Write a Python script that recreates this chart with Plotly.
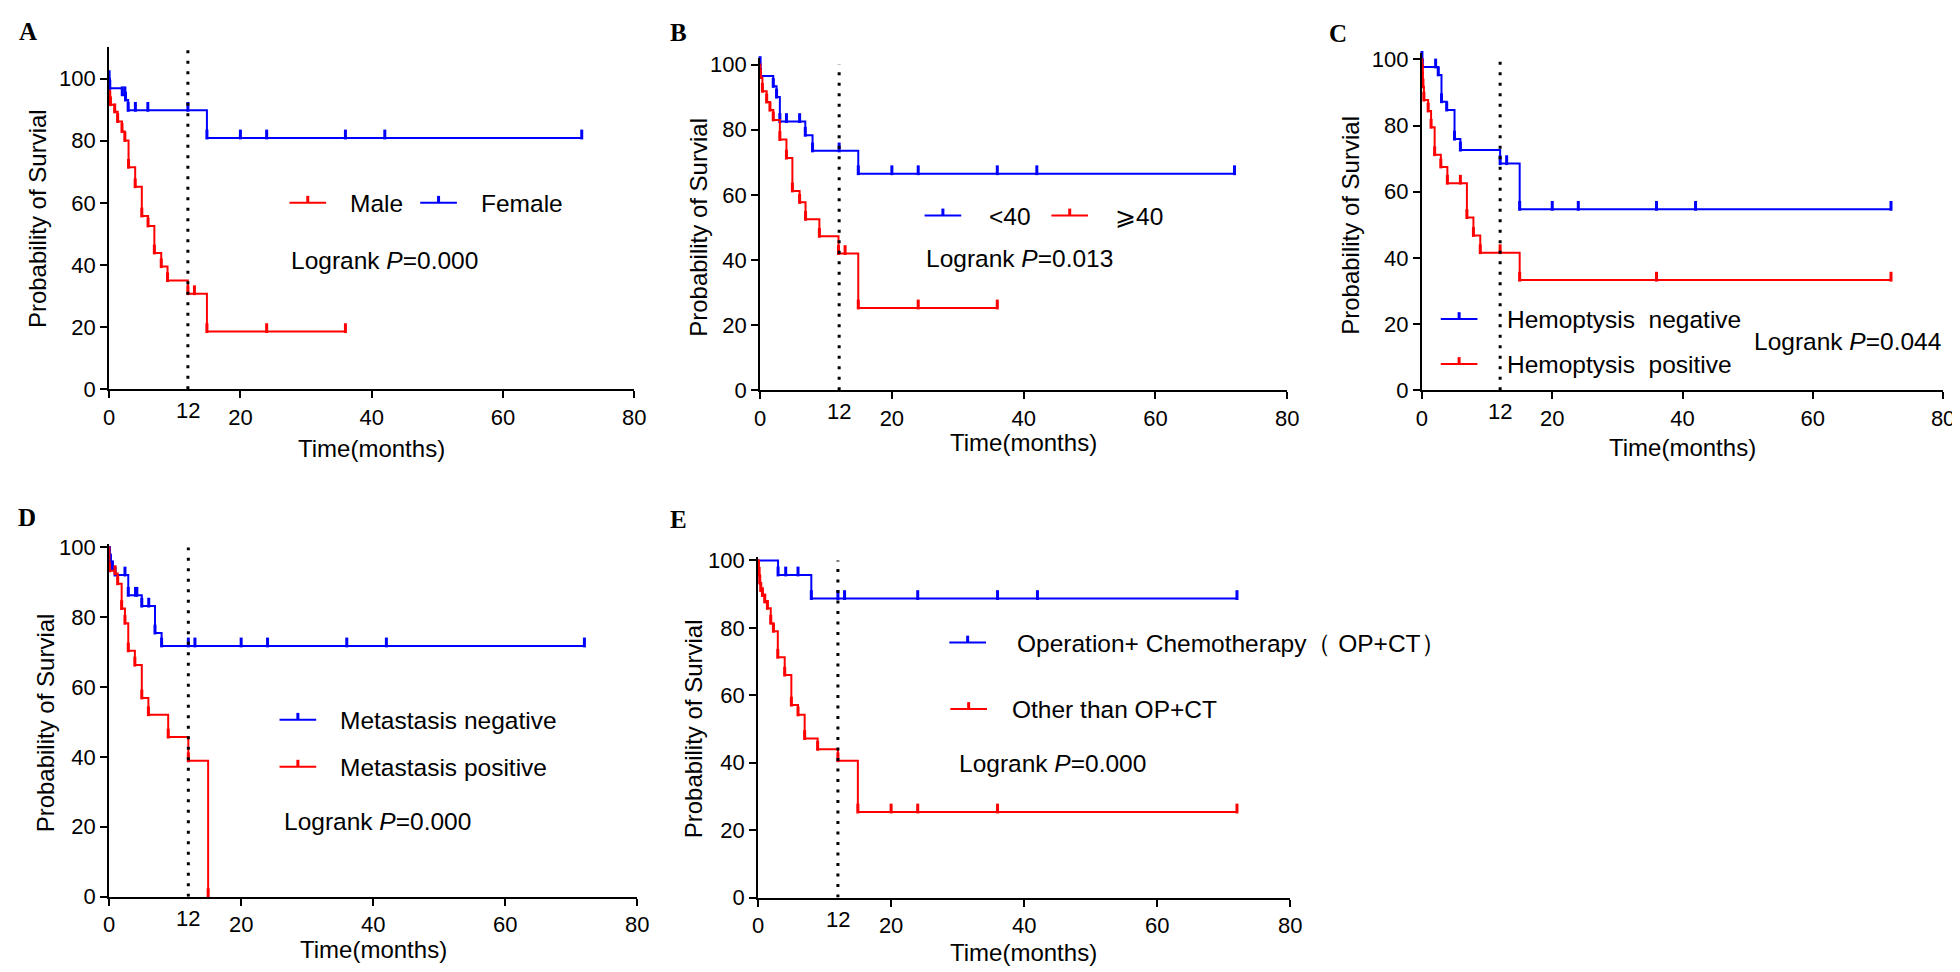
import plotly.graph_objects as go

W, H = 1960, 972
RED = "#FF0000"
BLUE = "#0000FF"
FONT = "Liberation Sans, Arial, sans-serif"

# ---------------- data ----------------
x_ticks = [0, 20, 40, 60, 80]
y_ticks = [0, 20, 40, 60, 80, 100]
landmark_month = 12

# Panel A
A_male_t = [0.02, 0.1, 0.2, 0.85, 1.3, 1.96, 2.4, 2.96, 3.97, 4.98, 5.93, 6.89, 7.94, 8.9, 12.0, 14.9]
A_male_s = [96.0, 93.5, 91.6, 89.3, 86.2, 83.0, 80.1, 71.5, 65.2, 55.8, 52.6, 43.9, 39.5, 35.0, 30.8, 18.6]
A_male_c = [13.0, 24.0, 36.0]
A_female_t = [0.1, 2.0, 2.5, 2.9, 14.9]
A_female_s = [96.9, 94.8, 93.1, 89.8, 80.9]
A_female_c = [0.0, 2.4, 4.0, 5.9, 12.0, 20.0, 24.0, 36.0, 42.0, 72.0]

# Panel B
B_lt40_t = [0.05, 2.0, 2.5, 3.0, 6.86, 7.96, 14.9]
B_lt40_s = [96.5, 93.3, 90.0, 82.5, 78.3, 73.5, 66.5]
B_lt40_c = [0.0, 4.0, 6.0, 12.0, 20.0, 24.0, 36.0, 42.0, 72.0]
B_ge40_t = [0.05, 0.35, 1.0, 1.5, 2.0, 3.0, 4.0, 4.9, 6.0, 6.9, 9.0, 11.9, 14.9]
B_ge40_s = [96.0, 91.8, 88.5, 86.0, 83.0, 77.0, 71.3, 61.2, 57.7, 52.5, 47.3, 42.0, 25.3]
B_ge40_c = [12.9, 24.0, 36.0]

# Panel C
C_neg_t = [0.05, 2.5, 3.0, 3.8, 5.0, 5.9, 12.0, 15.0]
C_neg_s = [97.7, 95.3, 87.2, 84.7, 75.9, 72.6, 68.5, 54.7]
C_neg_c = [0.0, 2.1, 13.0, 20.0, 24.0, 36.0, 42.0, 72.0]
C_pos_t = [0.05, 0.15, 0.3, 0.95, 1.4, 1.95, 2.9, 3.9, 6.9, 7.9, 8.95, 15.0]
C_pos_s = [96.0, 91.7, 87.7, 84.4, 79.5, 71.2, 67.5, 62.6, 52.2, 46.8, 41.6, 33.3]
C_pos_c = [5.9, 12.0, 36.0, 72.0]

# Panel D
D_neg_t = [0.05, 0.2, 0.5, 0.9, 2.9, 4.95, 6.95, 7.95]
D_neg_s = [98.0, 95.8, 93.9, 92.1, 86.3, 83.2, 75.5, 71.8]
D_neg_c = [2.4, 4.0, 4.2, 6.0, 12.0, 13.0, 20.0, 24.0, 36.0, 42.0, 72.0]
D_pos_t = [0.05, 0.9, 1.3, 1.9, 2.4, 2.9, 3.9, 4.95, 5.95, 8.95, 12.0, 15.0]
D_pos_s = [93.3, 92.5, 89.6, 82.5, 78.3, 70.4, 66.3, 56.9, 52.1, 45.7, 38.9, 0.0]
D_pos_c = []

# Panel E
E_op_t = [3.0, 8.0]
E_op_s = [95.7, 88.7]
E_op_c = [2.0, 4.15, 6.0, 12.0, 13.0, 24.0, 36.0, 42.0, 72.0]
E_other_t = [0.05, 0.15, 0.25, 0.4, 0.65, 1.0, 1.4, 1.9, 2.3, 2.96, 4.0, 5.0, 6.0, 7.0, 8.95, 12.0, 15.0]
E_other_s = [97.8, 95.6, 93.3, 91.1, 89.6, 87.7, 85.8, 81.4, 79.0, 71.3, 66.0, 57.1, 54.2, 47.2, 44.0, 40.6, 25.4]
E_other_c = [20.0, 24.0, 36.0, 72.0]

# ---------------- layout geometry (pixels) ----------------
panels = [
    dict(key="A", x0=96, x1=626, ybot=381, ymax=110, ppu=3.18, dot_top=110,
         series=[("Male", RED, A_male_t, A_male_s, A_male_c),
                 ("Female", BLUE, A_female_t, A_female_s, A_female_c)],
         letter=(3, 15), ytitle=(24, 206), xtitle=(361, 442),
         legend=[(278, 190, "Male", RED, 337), (410, 190, "Female", BLUE, 469)],
         logrank=(278, 249, "0.000")),
    dict(key="B", x0=753, x1=1285, ybot=382, ymax=102, ppu=3.334, dot_top=100,
         series=[("<40", BLUE, B_lt40_t, B_lt40_s, B_lt40_c),
                 ("⩾40", RED, B_ge40_t, B_ge40_s, B_ge40_c)],
         letter=(660, 16), ytitle=(690, 215), xtitle=(1019, 435),
         legend=[(919, 203, "<40", BLUE, 982), (1047, 203, "⩾40", RED, 1109)],
         logrank=(918, 247, "0.013")),
    dict(key="C", x0=1421, x1=1947, ybot=382, ymax=102, ppu=3.387, dot_top=100,
         series=[("Hemoptysis  negative", BLUE, C_neg_t, C_neg_s, C_neg_c),
                 ("Hemoptysis  positive", RED, C_pos_t, C_pos_s, C_pos_c)],
         letter=(1325, 17), ytitle=(1349, 213), xtitle=(1684, 440),
         legend=[(1440, 309, "Hemoptysis  negative", BLUE, 1505),
                 (1440, 355, "Hemoptysis  positive", RED, 1505)],
         logrank=(1754, 332, "0.044")),
    dict(key="D", x0=96, x1=629, ybot=900, ymax=101, ppu=3.573, dot_top=100,
         series=[("Metastasis negative", BLUE, D_neg_t, D_neg_s, D_neg_c),
                 ("Metastasis positive", RED, D_pos_t, D_pos_s, D_pos_c)],
         letter=(2, 512), ytitle=(32, 722), xtitle=(363, 954),
         legend=[(268, 719, "Metastasis negative", BLUE, 327),
                 (268, 767, "Metastasis positive", RED, 327)],
         logrank=(270, 823, "0.000")),
    dict(key="E", x0=751, x1=1288, ybot=901, ymax=101, ppu=3.45, dot_top=100,
         series=[("Operation+ Chemotherapy（ OP+CT）", BLUE, E_op_t, E_op_s, E_op_c),
                 ("Other than OP+CT", RED, E_other_t, E_other_s, E_other_c)],
         letter=(660, 514), ytitle=(686, 728), xtitle=(1019, 957),
         legend=[(944, 640, "Operation+ Chemotherapy（ OP+CT）", BLUE, 1010),
                 (945, 708, "Other than OP+CT", RED, 1005)],
         logrank=(952, 764, "0.000")),
]


def px2x(p):
    return p / W


def px2y(p):
    return 1 - p / H


def level_at(t, times, surv):
    lv = 100.0
    for ti, si in zip(times, surv):
        if ti <= t:
            lv = si
    return lv


fig = go.Figure()
layout = dict(width=W, height=H, margin=dict(l=0, r=0, t=0, b=0),
              paper_bgcolor="white", plot_bgcolor="white", showlegend=False)
shapes, annotations = [], []
TXT = 24.5

for i, p in enumerate(panels):
    n = "" if i == 0 else str(i + 1)
    xa, ya = "x" + n, "y" + n
    ytop_px = p["ybot"] - p["ymax"] * p["ppu"]
    layout["xaxis" + n] = dict(
        domain=[px2x(p["x0"]), px2x(p["x1"])], range=[0, 80], anchor=ya,
        tickvals=x_ticks, ticks="outside", ticklen=7, tickwidth=2, tickcolor="black",
        showline=True, linecolor="black", linewidth=2, showgrid=False, zeroline=False,
        tickfont=dict(family=FONT, size=22, color="black"))
    layout["yaxis" + n] = dict(
        domain=[px2y(p["ybot"]), px2y(ytop_px)], range=[0, p["ymax"]], anchor=xa,
        tickvals=y_ticks, ticks="outside", ticklen=7, tickwidth=2, tickcolor="black",
        showline=True, linecolor="black", linewidth=2, showgrid=False, zeroline=False,
        tickfont=dict(family=FONT, size=22, color="black"))

    off = 3.5 / p["ppu"]
    for name, col, t, s, c in p["series"]:
        end = max(t[-1], max(c) if c else 0)
        xs = [0] + list(t) + [end]
        ys = [100] + list(s) + [s[-1]]
        fig.add_trace(go.Scatter(x=xs, y=ys, mode="lines", line=dict(color=col, width=2, shape="hv"),
                                 xaxis=xa, yaxis=ya, hoverinfo="skip"))
        mx = list(t) + list(c)
        my = [sv + off for sv in s] + [level_at(ci, t, s) + off for ci in c]
        fig.add_trace(go.Scatter(x=mx, y=my, mode="markers", cliponaxis=False,
                                 marker=dict(symbol="line-ns", size=7, color=col,
                                             line=dict(width=3, color=col)),
                                 xaxis=xa, yaxis=ya, hoverinfo="skip"))

    # landmark dotted line
    shapes.append(dict(type="line", xref=xa, yref=ya, x0=landmark_month, x1=landmark_month,
                       y0=0, y1=p["dot_top"], line=dict(color="black", width=3, dash="3px,7.5px")))
    annotations.append(dict(x=landmark_month, y=px2y(p["ybot"] + 22), xref=xa, yref="paper",
                            text=str(landmark_month), showarrow=False, xanchor="center", yanchor="middle",
                            font=dict(family=FONT, size=22, color="black")))

    # legend drawn by hand
    for lx, ly, txt, col, tx in p["legend"]:
        shapes.append(dict(type="line", xref="paper", yref="paper", x0=px2x(lx), x1=px2x(lx + 37),
                           y0=px2y(ly), y1=px2y(ly), line=dict(color=col, width=2)))
        shapes.append(dict(type="line", xref="paper", yref="paper", x0=px2x(lx + 18.5), x1=px2x(lx + 18.5),
                           y0=px2y(ly), y1=px2y(ly - 7), line=dict(color=col, width=3)))
        annotations.append(dict(x=px2x(tx), y=px2y(ly + 1), xref="paper", yref="paper", text=txt,
                                showarrow=False, xanchor="left", yanchor="middle",
                                font=dict(family=FONT, size=TXT, color="black")))

    lx, ly, pv = p["logrank"]
    annotations.append(dict(x=px2x(lx), y=px2y(ly), xref="paper", yref="paper",
                            text="Logrank <i>P</i>=" + pv, showarrow=False, xanchor="left",
                            yanchor="middle", font=dict(family=FONT, size=TXT, color="black")))

    ax, ay = p["letter"]
    annotations.append(dict(x=px2x(ax), y=px2y(ay), xref="paper", yref="paper",
                            text="<b>" + p["key"] + "</b>", showarrow=False, xanchor="left",
                            yanchor="middle",
                            font=dict(family="Liberation Serif, Times New Roman, serif", size=25,
                                      color="black")))
    tx, ty = p["ytitle"]
    annotations.append(dict(x=px2x(tx), y=px2y(ty), xref="paper", yref="paper",
                            text="Probability of Survial", textangle=-90, showarrow=False,
                            xanchor="center", yanchor="middle",
                            font=dict(family=FONT, size=24, color="black")))
    tx, ty = p["xtitle"]
    annotations.append(dict(x=px2x(tx), y=px2y(ty), xref="paper", yref="paper",
                            text="Time(months)", showarrow=False, xanchor="center", yanchor="middle",
                            font=dict(family=FONT, size=24, color="black")))

layout["shapes"] = shapes
layout["annotations"] = annotations
fig.update_layout(**layout)
fig.write_html("out.html")
